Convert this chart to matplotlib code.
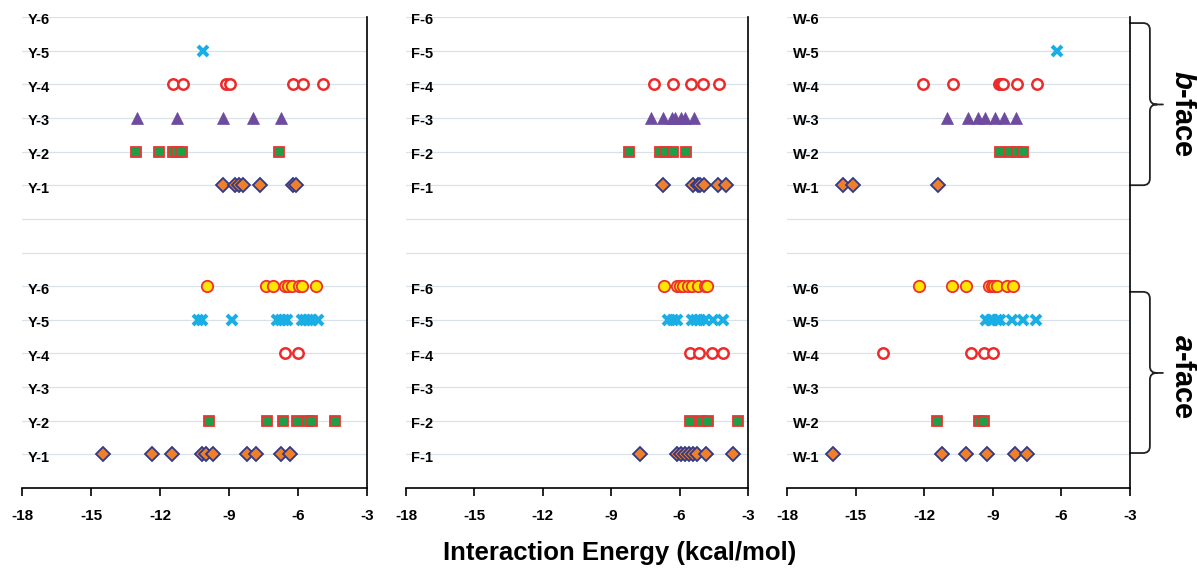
import matplotlib
matplotlib.use("Agg")
import matplotlib.pyplot as plt
from matplotlib.path import Path
from matplotlib.patches import PathPatch
import matplotlib.transforms as mtransforms

plt.rcParams['font.family'] = ['Liberation Sans', 'DejaVu Sans']
plt.rcParams['mathtext.fontset'] = 'custom'
plt.rcParams['mathtext.it'] = 'Liberation Sans:italic:bold'
plt.rcParams['mathtext.rm'] = 'Liberation Sans:bold'

# ---------------- data (interaction energies, kcal/mol) ----------------
residues = ["Y", "F", "W"]
x_ticks = [-18, -15, -12, -9, -6, -3]

# Y panel, b-face (series 1..6)
Y_b1 = [-9.25, -8.74, -8.55, -8.40, -7.65, -6.23, -6.09]
Y_b2 = [-13.04, -12.04, -11.42, -11.25, -11.06, -6.81]
Y_b3 = [-13.01, -11.27, -9.25, -7.97, -6.74]
Y_b4 = [-11.45, -11.01, -9.14, -8.96, -6.23, -5.77, -4.90]
Y_b5 = [-10.13]
Y_b6 = []
# Y panel, a-face
Y_a1 = [-14.49, -12.33, -11.47, -10.19, -10.01, -9.68, -8.20, -7.83, -6.75, -6.35]
Y_a2 = [-9.87, -7.36, -6.67, -6.06, -5.55, -5.40, -4.39]
Y_a3 = []
Y_a4 = [-6.57, -6.01]
Y_a5 = [-10.33, -10.19, -8.86, -6.90, -6.75, -6.61, -6.49, -5.84, -5.70, -5.55, -5.38, -5.12]
Y_a6 = [-9.97, -7.40, -7.07, -6.57, -6.42, -6.25, -5.96, -5.81, -5.22]

# F panel, b-face
F_b1 = [-6.74, -5.40, -5.20, -5.11, -4.92, -4.30, -3.96]
F_b2 = [-8.22, -6.86, -6.60, -6.28, -5.72]
F_b3 = [-7.25, -6.74, -6.35, -6.20, -5.94, -5.76, -5.36]
F_b4 = [-7.11, -6.30, -5.51, -4.96, -4.26]
F_b5 = []
F_b6 = []
# F panel, a-face
F_a1 = [-7.74, -6.13, -5.95, -5.76, -5.57, -5.40, -5.22, -4.84, -3.64]
F_a2 = [-5.54, -5.07, -4.74, -3.43]
F_a3 = []
F_a4 = [-5.54, -5.13, -4.59, -4.11]
F_a5 = [-6.49, -6.30, -6.10, -5.47, -5.28, -5.11, -4.89, -4.55, -4.11]
F_a6 = [-6.68, -6.13, -5.98, -5.84, -5.64, -5.47, -5.18, -4.89, -4.79]

# W panel, b-face
W_b1 = [-15.56, -15.13, -11.38]
W_b2 = [-8.69, -8.25, -7.96, -7.69]
W_b3 = [-11.02, -10.10, -9.64, -9.34, -8.90, -8.51, -8.00]
W_b4 = [-12.07, -10.75, -8.73, -8.64, -8.54, -7.96, -7.05]
W_b5 = [-6.21]
W_b6 = []
# W panel, a-face
W_a1 = [-16.0, -11.24, -10.19, -9.24, -8.03, -7.52]
W_a2 = [-11.43, -9.59, -9.39]
W_a3 = []
W_a4 = [-13.82, -9.95, -9.39, -8.98]
W_a5 = [-9.31, -9.10, -9.02, -8.80, -8.69, -8.15, -7.67, -7.13]
W_a6 = [-12.21, -10.77, -10.19, -9.17, -9.05, -8.95, -8.83, -8.39, -8.13]

panels_b = [[Y_b1, Y_b2, Y_b3, Y_b4, Y_b5, Y_b6],
            [F_b1, F_b2, F_b3, F_b4, F_b5, F_b6],
            [W_b1, W_b2, W_b3, W_b4, W_b5, W_b6]]
panels_a = [[Y_a1, Y_a2, Y_a3, Y_a4, Y_a5, Y_a6],
            [F_a1, F_a2, F_a3, F_a4, F_a5, F_a6],
            [W_a1, W_a2, W_a3, W_a4, W_a5, W_a6]]

# ---------------- styles ----------------
styles = [
    dict(marker='D', ms=6.8, mfc='#f07f2a', mec='#2e3a8c', mew=1.3),
    dict(marker='s', ms=7.0, mfc='#1f9e48', mec='#ee3333', mew=1.3),
    dict(marker='^', ms=8.2, mfc='#6d4c9f', mec='#6d4c9f', mew=0.5),
    dict(marker='o', ms=7.5, mfc='white', mec='#ee2a2a', mew=1.8),
    dict(marker='x', ms=7.0, mfc='none', mec='#1aaee6', mew=2.9),
    dict(marker='o', ms=8.2, mfc='#ffe600', mec='#ee3030', mew=1.3),
]

W_PX, H_PX = 1197, 583
fig = plt.figure(figsize=(W_PX / 100, H_PX / 100), dpi=100)

lefts = [22, 406, 787]
rights = [367, 748, 1130]
top_px, bot_px = 17, 488

axes = []
for p, res in enumerate(residues):
    ax = fig.add_axes([lefts[p] / W_PX, 1 - bot_px / H_PX,
                       (rights[p] - lefts[p]) / W_PX, (bot_px - top_px) / H_PX])
    axes.append(ax)
    ax.set_xlim(-18, -3)
    ax.set_ylim(0, 14)
    ax.set_yticks(range(1, 15))
    ax.set_yticklabels([])
    ax.tick_params(axis='y', length=0)
    ax.yaxis.grid(True, color='#dae2e9', lw=0.9)
    ax.set_axisbelow(True)
    ax.set_xticks(x_ticks)
    ax.set_xticklabels([str(t) for t in x_ticks], fontsize=11, fontweight='bold')
    ax.tick_params(axis='x', direction='out', length=6, width=1.2, pad=9, color='black')
    for s in ['left', 'top']:
        ax.spines[s].set_visible(False)
    for s in ['right', 'bottom']:
        ax.spines[s].set_color('black')
        ax.spines[s].set_linewidth(1.2)

    trans = mtransforms.blended_transform_factory(ax.transAxes, ax.transData)
    for k in range(6):
        for row, face in ((k + 1, panels_a), (k + 9, panels_b)):
            ax.text(0.016, row - 0.1, f"{res}-{k + 1}", transform=trans,
                    ha='left', va='center', fontsize=10.5, fontweight='bold')
            vals = face[p][k]
            if vals:
                ax.plot(vals, [row] * len(vals), ls='none', clip_on=False,
                        zorder=3, **styles[k])

# ---------------- braces and face labels ----------------
ax3 = axes[2]
btrans = mtransforms.blended_transform_factory(ax3.transAxes, ax3.transData)


def brace(y0, y1, ym):
    xs, xv, xt, r = 1.0, 1.058, 1.096, 0.2
    verts = [(xs, y1), (xv - 0.02, y1), (xv, y1), (xv, y1 - r),
             (xv, ym + r), (xv, ym), (xv + 0.02, ym), (xt, ym),
             (xv + 0.02, ym), (xv, ym), (xv, ym - r),
             (xv, y0 + r), (xv, y0), (xv - 0.02, y0), (xs, y0)]
    codes = [Path.MOVETO, Path.LINETO, Path.CURVE3, Path.CURVE3,
             Path.LINETO, Path.CURVE3, Path.CURVE3, Path.LINETO,
             Path.MOVETO, Path.CURVE3, Path.CURVE3,
             Path.LINETO, Path.CURVE3, Path.CURVE3, Path.LINETO]
    patch = PathPatch(Path(verts, codes), transform=btrans, fill=False,
                      lw=1.3, ec='#222222', clip_on=False, capstyle='round')
    ax3.add_patch(patch)


brace(9.0, 13.82, 11.4)
brace(1.04, 5.83, 3.42)

fig.text(1183 / W_PX, 1 - 113 / H_PX, r'$\it{b}$-face', rotation=-90,
         ha='center', va='center', fontsize=21, fontweight='bold')
fig.text(1183 / W_PX, 1 - 377 / H_PX, r'$\it{a}$-face', rotation=-90,
         ha='center', va='center', fontsize=21, fontweight='bold')

fig.text(620 / W_PX, 1 - 553 / H_PX, 'Interaction Energy (kcal/mol)',
         ha='center', va='center', fontsize=18.5, fontweight='bold')

fig.savefig('out.png', dpi=100)
